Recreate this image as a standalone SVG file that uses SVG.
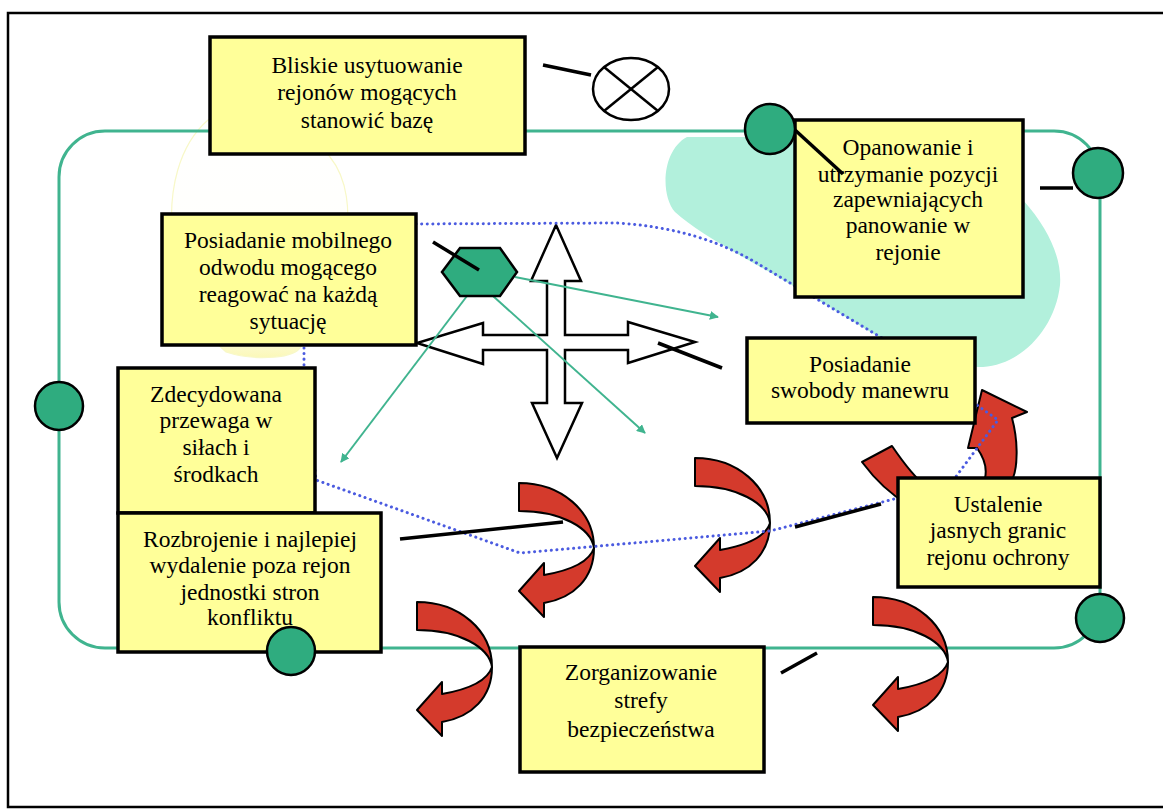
<svg xmlns="http://www.w3.org/2000/svg" width="1163" height="809" viewBox="0 0 1163 809">
<style>
.box{fill:#ffff99;stroke:#000;stroke-width:3.5}
.t{font-family:"Liberation Serif","Times New Roman",serif;font-size:23.5px;fill:#000;text-anchor:middle}
.dot{fill:#2fac7f;stroke:#000;stroke-width:2.5}
.blk{stroke:#000;stroke-width:3.5;fill:none}
.teal{stroke:#40b48f;stroke-width:2;fill:none;marker-end:url(#ah)}
.red{fill:#d43a2c;stroke:#000;stroke-width:2;stroke-linejoin:round}
</style>
<defs>
<marker id="ah" viewBox="0 0 10 10" refX="9" refY="5" markerWidth="9" markerHeight="9" markerUnits="userSpaceOnUse" orient="auto">
<path d="M0,0 L10,5 L0,10 Z" fill="#40b48f"/>
</marker>
<linearGradient id="yg" x1="0" y1="0" x2="0" y2="1">
<stop offset="0" stop-color="#ffffff"/>
<stop offset="0.85" stop-color="#fffffa"/>
<stop offset="1" stop-color="#fbf8b8"/>
</linearGradient>
<path id="curv" d="M0,0 C42,0 75,28 75,65 C75,95 55,115 25,120 L25,134 L0,108 L25,80 L25,92 C48,88 70,80 75,65 C72,45 42,28 0,28 Z"/>
</defs>
<rect x="0" y="0" width="1163" height="809" fill="#fff"/>
<rect x="8" y="13" width="1175" height="794" fill="none" stroke="#000" stroke-width="2.5"/>

<g id="background">
<path d="M208,120 C150,170 165,300 226,352 C250,360 290,360 300,348 C345,290 365,200 330,157 C300,118 250,108 208,120 Z" fill="url(#yg)" stroke="#f8f8c8" stroke-width="1.2"/>
<path d="M687,137 L800,137 L1023,200 C1050,230 1062,260 1060,285 C1055,330 1020,365 983,367 C940,368 900,350 879,337 C850,320 820,300 795,287 C750,260 700,235 675,212 C660,195 662,150 687,137 Z" fill="#b2f0dc"/>
<rect id="zone" x="59" y="131" width="1041" height="517" rx="46" ry="46" fill="none" stroke="#40b48f" stroke-width="3"/>
</g>

<g id="cross-arrow">
<path d="M556,225 L581,281 L565,281 L565,335 L628,335 L628,322 L695,342 L628,363 L628,350 L565,350 L565,403 L582,403 L557,458 L532,403 L547,403 L547,350 L483,350 L483,364 L417,343 L483,323 L483,335 L547,335 L547,281 L531,281 Z" fill="#fff" stroke="#000" stroke-width="2.5" stroke-linejoin="miter"/>
</g>

<g id="red-arrows">
<use href="#curv" class="red" transform="translate(519,483)"/>
<use href="#curv" class="red" transform="translate(695,458)"/>
<use href="#curv" class="red" transform="translate(417,602)"/>
<use href="#curv" class="red" transform="translate(873,597)"/>
<path class="red" d="M862,462 L892,446 C905,465 915,478 925,485 C950,500 975,495 985,478 C988,465 982,455 977,448 L968,448 L982,390 L1027,412 L1012,418 C1018,440 1018,465 1013,478 C1000,530 920,540 862,462 Z"/>
</g>

<g id="connectors">
<path d="M416,224 L617,223 Q700,228 760,265 L882,338 L998,420 L955,478 L898,498 L770,531 L520,553 L316,480 L304,368 L304,300 Z" fill="none" stroke="#4b5be0" stroke-width="3" stroke-dasharray="0.1 5.5" stroke-linecap="round"/>
<line class="teal" x1="515" y1="277" x2="718" y2="317"/>
<line class="teal" x1="493" y1="296" x2="645" y2="433"/>
<line class="teal" x1="467" y1="296" x2="341" y2="462"/>
</g>

<g id="hexagon">
<polygon points="442,272 460,248 500,248 517,272 500,296 460,296" fill="#2fac7f" stroke="#000" stroke-width="2.5"/>
</g>

<g id="n1"><rect class="box" x="210" y="37" width="315" height="117"/>
<text class="t" x="367" y="73">Bliskie usytuowanie</text>
<text class="t" x="367" y="100">rejonów mogących</text>
<text class="t" x="367" y="128">stanowić bazę</text></g>

<g id="n2"><rect class="box" x="795" y="120" width="228" height="177"/>
<text class="t" x="908" y="155">Opanowanie i</text>
<text class="t" x="908" y="182">utrzymanie pozycji</text>
<text class="t" x="908" y="207">zapewniających</text>
<text class="t" x="908" y="233">panowanie w</text>
<text class="t" x="908" y="260">rejonie</text></g>

<g id="n3"><rect class="box" x="162" y="214" width="254" height="131"/>
<text class="t" x="288" y="248">Posiadanie mobilnego</text>
<text class="t" x="288" y="275">odwodu mogącego</text>
<text class="t" x="288" y="302">reagować na każdą</text>
<text class="t" x="288" y="329">sytuację</text></g>

<g id="n4"><rect class="box" x="747" y="338" width="228" height="85"/>
<text class="t" x="860" y="372">Posiadanie</text>
<text class="t" x="860" y="398">swobody manewru</text></g>

<g id="n5"><rect class="box" x="118" y="368" width="197" height="145"/>
<text class="t" x="216" y="402">Zdecydowana</text>
<text class="t" x="216" y="428">przewaga w</text>
<text class="t" x="216" y="455">siłach i</text>
<text class="t" x="216" y="482">środkach</text></g>

<g id="n6"><rect class="box" x="118" y="513" width="263" height="139"/>
<text class="t" x="250" y="547">Rozbrojenie i najlepiej</text>
<text class="t" x="250" y="573">wydalenie poza rejon</text>
<text class="t" x="250" y="600">jednostki stron</text>
<text class="t" x="250" y="625">konfliktu</text></g>

<g id="n7"><rect class="box" x="898" y="478" width="202" height="109"/>
<text class="t" x="998" y="512">Ustalenie</text>
<text class="t" x="998" y="538">jasnych granic</text>
<text class="t" x="998" y="565">rejonu ochrony</text></g>

<g id="n8"><rect class="box" x="520" y="647" width="244" height="125"/>
<text class="t" x="641" y="680">Zorganizowanie</text>
<text class="t" x="641" y="708">strefy</text>
<text class="t" x="641" y="737">bezpieczeństwa</text></g>

<g id="markers">
<ellipse cx="631" cy="89" rx="38" ry="31" fill="#fff" stroke="#000" stroke-width="2.5"/>
<line x1="604" y1="67" x2="658" y2="111" stroke="#000" stroke-width="2.5"/>
<line x1="658" y1="67" x2="604" y2="111" stroke="#000" stroke-width="2.5"/>
<circle class="dot" cx="770" cy="129" r="25"/>
<circle class="dot" cx="1098" cy="173" r="25"/>
<circle class="dot" cx="59" cy="406" r="24"/>
<circle class="dot" cx="1100" cy="618" r="24"/>
<circle class="dot" cx="291" cy="651" r="24"/>
</g>

<g id="ticks">
<line class="blk" x1="543" y1="65" x2="591" y2="75"/>
<line class="blk" x1="795" y1="130" x2="843" y2="174"/>
<line class="blk" x1="1040" y1="188" x2="1073" y2="188"/>
<line class="blk" x1="433" y1="242" x2="479" y2="270"/>
<line class="blk" x1="658" y1="343" x2="722" y2="368"/>
<line class="blk" x1="400" y1="539" x2="563" y2="522"/>
<line class="blk" x1="795" y1="527" x2="881" y2="504"/>
<line class="blk" x1="781" y1="673" x2="817" y2="653"/>
</g>
</svg>
